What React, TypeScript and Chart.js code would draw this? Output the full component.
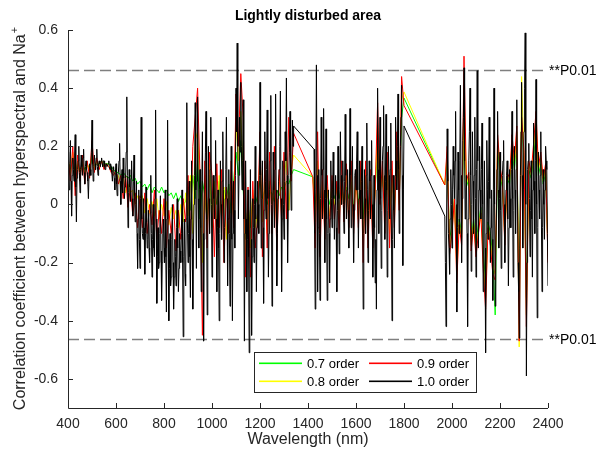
import React, { useEffect, useRef } from 'react';
import { Chart, registerables } from 'chart.js';

Chart.register(...registerables);

// ---------- data ----------
const X_TICKS = [400, 600, 800, 1000, 1200, 1400, 1600, 1800, 2000, 2200, 2400];
const Y_TICKS = [-0.6, -0.4, -0.2, 0, 0.2, 0.4, 0.6];
const SIG_LEVEL = 0.463;
const SIG_LABEL = '**P0.01';
const TITLE = 'Lightly disturbed area';
const X_TITLE = 'Wavelength (nm)';
const Y_TITLE = 'Correlation coefficient between hyperspectral and Na';
const Y_TITLE_SUP = '+';

const SERIES_LABELS = ['0.7 order', '0.8 order', '0.9 order', '1.0 order'];
const SERIES_COLORS = ['#00ff00', '#ffff00', '#ff0000', '#000000'];

// wavelength ranges (nm): water-absorption bands removed
const BLACK_SEGMENTS = [[400, 1340], [1425, 1800], [1970, 2400]];
const BLACK_STEP = 2.5;
const ORDER_SEGMENTS = [[400, 1340], [1420, 1800], [1970, 2400]];
const ORDER_STEP = 10;

// 1.0 order (black): values at every 5 nm ...
const BLACK_A = [
  0.18, 0.05, 0.22, -0.04, 0.16, 0.08, 0.24, -0.06, 0.12, 0.20,
  0.04, 0.17, 0.10, 0.19, 0.07, 0.15, 0.11, 0.02, 0.14, 0.10,
  0.29, 0.08, 0.17, 0.12, 0.19, 0.10, 0.15, 0.13, 0.16, 0.13,
  0.15, 0.12, 0.14, 0.13, 0.15, 0.12, 0.13, 0.08, 0.13, 0.05,
  0.14, 0.03, 0.11, 0.21, 0.00, 0.12, 0.16, 0.02, 0.09, 0.37,
  -0.08, 0.12, 0.01, 0.15, -0.04, 0.17, -0.06, 0.08, -0.22, 0.05,
  -0.22, 0.30, -0.10, 0.02, -0.24, 0.06, -0.15, -0.02, -0.20, 0.10,
  -0.25, 0.00, -0.18, 0.325, -0.34, -0.08, -0.20, 0.03, -0.33, -0.10,
  -0.15, 0.05, -0.37, 0.29, -0.40, -0.10, -0.25, 0.00, -0.36, -0.12,
  -0.28, 0.02, -0.30, -0.10, -0.20, 0.05, -0.455, -0.05, -0.28, 0.35,
  -0.20, 0.08, -0.32, 0.15, -0.36, 0.00, 0.35, -0.22, 0.37, -0.15,
  0.12, -0.30, 0.25, -0.47, 0.05, 0.32, -0.38, 0.20, -0.10, 0.30,
  -0.25, 0.10, -0.05, 0.22, -0.30, 0.05, -0.40, 0.15, -0.12, 0.25,
  -0.20, 0.02, 0.30, -0.28, 0.12, -0.35, 0.20, -0.40, 0.08, -0.15,
  0.40, 0.555, -0.05, 0.30, 0.42, 0.05, 0.36, -0.47, 0.15, -0.30,
  0.05, -0.51, 0.12, -0.45, 0.02, -0.20, 0.20, -0.30, 0.08, -0.10,
  0.42, -0.15, 0.15, -0.34, 0.25, -0.05, 0.325, -0.25, 0.05, 0.375,
  -0.35, 0.18, -0.08, 0.38, -0.28, 0.02, 0.12, 0.39, -0.30, 0.15,
  -0.12, 0.25, 0.435, -0.20, 0.10, 0.32, -0.02, 0.29, 0.27,
];
// ... and the values in between (402.5, 407.5, ... nm)
const BLACK_A_MID = [
  0.10, 0.14, 0.08, 0.10, 0.12, 0.17, 0.06, 0.09, 0.15, 0.11,
  0.12, 0.13, 0.16, 0.11, 0.13, 0.12, 0.08, 0.10, 0.12, 0.18,
  0.14, 0.13, 0.14, 0.16, 0.13, 0.14, 0.14, 0.15, 0.14, 0.15,
  0.13, 0.14, 0.13, 0.14, 0.13, 0.14, 0.11, 0.12, 0.09, 0.11,
  0.07, 0.10, 0.15, 0.08, 0.07, 0.04, 0.09, 0.06, 0.18, 0.10,
  0.04, 0.06, 0.09, 0.02, 0.08, 0.03, 0.00, -0.10, -0.05, -0.12,
  0.02, -0.05, -0.12, -0.08, -0.10, -0.06, -0.12, -0.15, -0.03, -0.10,
  -0.12, -0.15, 0.02, -0.05, -0.18, -0.22, -0.10, -0.16, -0.20, -0.05,
  -0.20, -0.18, -0.05, -0.12, -0.22, -0.28, -0.12, -0.20, -0.25, -0.18,
  -0.08, -0.15, -0.22, -0.16, -0.10, -0.20, -0.18, -0.24, -0.05, -0.05,
  -0.10, -0.18, -0.05, -0.12, -0.15, 0.10, 0.05, 0.08, 0.02, 0.05,
  -0.08, 0.05, -0.10, -0.12, 0.18, -0.05, -0.05, 0.02, 0.12, 0.00,
  -0.05, 0.02, 0.10, -0.05, -0.08, -0.15, -0.10, 0.00, 0.08, 0.05,
  -0.08, 0.12, 0.02, -0.05, -0.10, -0.05, -0.12, -0.10, -0.02, 0.10,
  0.25, 0.20, 0.10, 0.18, 0.20, 0.15, -0.05, -0.10, -0.05, -0.12,
  -0.18, -0.15, -0.12, -0.18, -0.08, 0.00, -0.05, -0.08, 0.00, 0.10,
  0.10, 0.02, -0.08, -0.02, 0.08, 0.12, 0.02, -0.10, 0.15, 0.00,
  -0.05, 0.05, 0.12, 0.05, -0.10, 0.08, 0.20, 0.02, -0.05, 0.00,
  0.08, 0.15, 0.10, -0.02, 0.18, 0.10, 0.12, 0.20,
];
const BLACK_B = [
  0.19, -0.36, 0.48, -0.30, 0.12, -0.33, 0.30, -0.05, 0.33, -0.20,
  0.26, -0.33, 0.05, -0.27, 0.15, -0.08, 0.18, -0.12, 0.10, -0.30,
  0.20, -0.17, 0.25, 0.00, 0.15, -0.10, 0.31, -0.05, 0.12, -0.15,
  0.33, -0.08, 0.20, -0.20, 0.10, 0.05, 0.25, -0.15, 0.15, -0.05,
  0.20, -0.36, 0.12, -0.10, 0.28, -0.20, 0.15, -0.05, 0.22, -0.25,
  0.10, -0.27, -0.36, 0.40, -0.10, 0.30, -0.22, 0.15, 0.34, -0.12,
  0.31, -0.25, 0.20, -0.05, 0.28, -0.40, 0.10, -0.15, 0.30, 0.05,
  0.38, -0.10, 0.20, 0.41, -0.21, 0.27,
];
const BLACK_B_MID = [
  -0.10, 0.05, 0.10, -0.08, -0.10, 0.02, 0.10, 0.12, 0.05, 0.02,
  -0.05, -0.10, -0.10, -0.05, 0.02, 0.05, 0.02, 0.00, -0.08, -0.02,
  0.02, 0.05, 0.10, 0.08, 0.00, 0.08, 0.10, 0.05, -0.02, 0.05,
  0.10, 0.06, 0.00, -0.02, 0.12, 0.15, 0.05, 0.02, 0.05, 0.08,
  -0.05, -0.10, 0.02, 0.10, 0.05, -0.02, 0.08, 0.10, 0.00, -0.08,
  -0.08, -0.12, 0.05, 0.12, 0.10, 0.02, -0.02, 0.20, 0.10, 0.08,
  0.05, -0.02, 0.10, 0.12, -0.05, -0.12, -0.02, 0.10, 0.15, 0.20,
  0.12, 0.05, 0.30, 0.10, 0.05,
];
const BLACK_C = [
  -0.04, -0.42, 0.26, -0.10, -0.24, 0.12, -0.15, 0.20, 0.02, 0.32,
  -0.37, 0.18, -0.10, 0.41, -0.20, 0.22, 0.47, -0.05, 0.10, -0.42,
  0.15, 0.40, -0.23, 0.25, -0.10, 0.30, -0.25, 0.46, -0.15, 0.20,
  -0.05, 0.28, -0.30, 0.15, -0.51, 0.22, -0.12, 0.30, -0.20, 0.05,
  -0.33, 0.40, -0.35, -0.05, 0.32, -0.15, 0.18, -0.22, 0.10, 0.22,
  -0.20, 0.05, 0.15, -0.28, 0.12, -0.08, 0.32, -0.25, 0.20, -0.10,
  0.36, -0.20, -0.46, 0.10, 0.42, -0.15, 0.25, 0.59, -0.59, 0.12,
  0.21, -0.18, 0.15, -0.25, 0.28, -0.10, 0.43, -0.39, 0.18, -0.05,
  0.25, -0.30, 0.12, -0.12, 0.20, 0.12, -0.28,
];
const BLACK_C_MID = [
  -0.20, -0.05, 0.08, -0.15, -0.05, 0.00, 0.05, 0.10, 0.15, 0.00,
  -0.08, 0.05, 0.15, 0.10, 0.02, 0.30, 0.15, 0.05, -0.10, -0.05,
  0.25, 0.10, 0.00, 0.08, 0.10, 0.02, 0.12, 0.15, 0.05, 0.05,
  0.12, 0.00, -0.05, -0.15, -0.10, 0.05, 0.08, 0.02, -0.08, -0.12,
  0.05, 0.00, -0.15, 0.12, 0.05, 0.02, -0.02, -0.05, 0.15, 0.00,
  -0.05, 0.10, -0.05, -0.08, 0.02, 0.12, 0.02, -0.02, 0.05, 0.12,
  0.05, -0.30, -0.15, 0.25, 0.10, 0.05, 0.40, 0.00, -0.20, 0.15,
  0.02, -0.02, -0.05, 0.05, 0.08, 0.15, 0.00, -0.08, 0.05, 0.10,
  -0.05, -0.08, 0.00, 0.05, 0.15, -0.10,
];

// 0.7 order (green), 10 nm
const GREEN_A = [
  0.15, 0.12, 0.16, 0.10, 0.14, 0.11, 0.14, 0.12, 0.14, 0.12,
  0.16, 0.13, 0.14, 0.14, 0.15, 0.14, 0.14, 0.14, 0.13, 0.12,
  0.11, 0.11, 0.10, 0.11, 0.10, 0.09, 0.10, 0.08, 0.09, 0.07,
  0.08, 0.06, 0.07, 0.05, 0.07, 0.04, 0.06, 0.05, 0.04, 0.06,
  0.04, 0.05, 0.03, 0.04, 0.02, 0.04, 0.01, 0.03, 0.00, 0.01,
  0.06, -0.02, 0.10, 0.02, 0.15, -0.05, 0.08, 0.03, -0.06, 0.10,
  -0.02, 0.06, 0.00, 0.08, -0.04, 0.05, 0.02, 0.07, -0.03, 0.08,
  0.18, 0.10, 0.22, 0.05, -0.12, 0.00, -0.08, 0.03, 0.00, 0.03,
  0.08, 0.02, 0.05, 0.00, 0.04, 0.04, 0.01, 0.05, 0.03, 0.06,
  0.05, 0.08, 0.07, 0.10, 0.12,
];
const GREEN_B = [
  0.095, 0.00, 0.08, -0.02, 0.05, -0.04, 0.04, 0.00, 0.06, 0.02,
  0.05, 0.02, 0.07, 0.00, 0.06, 0.02, 0.08, -0.02, 0.08, 0.00,
  0.10, -0.05, 0.10, -0.05, 0.08, -0.06, 0.05, 0.20, 0.05, 0.10,
  0.00, 0.12, -0.05, 0.10, 0.00, 0.15, 0.05, 0.30, 0.366,
];
const GREEN_C = [
  0.067, 0.15, -0.12, -0.07, 0.02, -0.20, -0.05, -0.10, 0.32, 0.06,
  0.09, -0.12, -0.05, -0.13, -0.07, -0.01, -0.16, -0.27, -0.06, -0.10,
  -0.18, -0.38, 0.20, 0.10, 0.06, -0.10, 0.09, 0.07, 0.19, 0.12,
  0.22, -0.33, 0.30, 0.14, -0.32, 0.12, 0.09, 0.16, 0.26, 0.10,
  0.14, 0.07, 0.11, -0.15,
];

// 0.8 order (yellow), 10 nm
const YELLOW_A = [
  0.16, 0.10, 0.18, 0.06, 0.15, 0.10, 0.15, 0.10, 0.14, 0.11,
  0.18, 0.12, 0.15, 0.13, 0.15, 0.13, 0.14, 0.13, 0.12, 0.11,
  0.10, 0.10, 0.06, 0.10, 0.04, 0.07, 0.04, 0.05, 0.00, 0.03,
  0.01, 0.03, -0.03, 0.02, -0.03, 0.01, -0.04, 0.02, -0.05, 0.00,
  -0.04, 0.01, -0.07, -0.01, -0.05, -0.02, -0.08, 0.00, -0.06, 0.04,
  -0.04, 0.10, -0.10, 0.22, 0.25, 0.05, -0.20, 0.10, -0.10, 0.14,
  -0.08, 0.08, -0.10, 0.10, -0.05, 0.06, -0.12, 0.04, 0.06, -0.05,
  0.28, 0.15, 0.32, 0.10, -0.20, 0.03, -0.15, 0.05, -0.08, -0.03,
  0.18, -0.06, 0.10, -0.10, 0.08, 0.00, 0.08, -0.08, 0.10, -0.03,
  0.08, 0.16, -0.02, 0.12, 0.17,
];
const YELLOW_B = [
  0.095, -0.06, 0.15, -0.10, 0.08, -0.08, 0.06, -0.04, 0.08, 0.00,
  0.06, -0.05, 0.10, -0.03, 0.10, -0.05, 0.12, -0.06, 0.10, -0.05,
  0.12, -0.12, 0.12, -0.10, 0.10, -0.10, 0.05, 0.28, 0.02, 0.12,
  -0.05, 0.15, -0.10, 0.12, -0.05, 0.20, 0.00, 0.36, 0.387,
];
const YELLOW_C = [
  0.067, 0.18, -0.15, -0.09, 0.02, -0.24, -0.06, -0.12, 0.40, 0.07,
  0.10, -0.14, -0.06, -0.16, -0.09, -0.02, -0.19, -0.32, -0.07, -0.12,
  -0.21, -0.24, 0.22, 0.12, 0.07, -0.12, 0.10, 0.08, 0.22, 0.14,
  0.25, -0.49, 0.44, 0.16, -0.38, 0.14, 0.10, 0.19, 0.30, 0.12,
  0.16, 0.08, 0.13, -0.18,
];

// 0.9 order (red), 10 nm
const RED_A = [
  0.17, 0.08, 0.20, 0.03, 0.17, 0.08, 0.17, 0.07, 0.15, 0.09,
  0.22, 0.11, 0.16, 0.12, 0.15, 0.12, 0.14, 0.13, 0.11, 0.10,
  0.12, 0.07, 0.10, 0.02, 0.10, -0.01, 0.06, -0.04, 0.04, -0.08,
  0.03, -0.08, 0.04, -0.10, 0.00, -0.07, 0.05, -0.12, -0.02, -0.10,
  0.02, -0.15, -0.02, -0.10, 0.00, -0.16, -0.02, -0.12, 0.02, -0.06,
  0.10, -0.12, 0.20, 0.30, 0.40, 0.10, -0.45, 0.15, -0.15, 0.18,
  0.10, -0.18, 0.14, -0.08, 0.12, -0.20, 0.06, -0.10, 0.15, -0.08,
  0.38, 0.20, 0.45, 0.30, -0.25, 0.06, -0.25, 0.08, -0.15, -0.05,
  0.25, -0.18, 0.15, -0.15, 0.18, -0.10, 0.20, -0.16, 0.12, -0.06,
  0.18, -0.05, 0.30, 0.08, 0.245,
];
const RED_B = [
  0.095, -0.15, 0.25, -0.18, 0.12, -0.12, 0.10, -0.08, 0.10, -0.05,
  0.08, -0.10, 0.15, -0.06, 0.14, -0.08, 0.15, -0.10, 0.12, -0.08,
  0.15, -0.20, 0.15, -0.15, 0.12, -0.15, 0.05, 0.35, 0.00, 0.15,
  -0.10, 0.18, -0.15, 0.15, -0.08, 0.25, -0.02, 0.44, 0.34,
];
const RED_C = [
  0.067, 0.20, -0.17, -0.10, 0.02, -0.27, -0.07, -0.14, 0.51, 0.08,
  0.11, -0.16, -0.07, -0.18, -0.10, -0.03, -0.22, -0.36, -0.08, -0.14,
  -0.24, -0.26, 0.24, 0.13, 0.08, -0.14, 0.11, 0.09, 0.24, 0.15,
  0.27, -0.47, 0.30, 0.18, -0.42, 0.15, 0.11, 0.21, 0.32, 0.13,
  0.18, 0.09, 0.14, -0.20,
];

// ---------- helpers ----------
function grid(segments: number[][], step: number): number[] {
  const xs: number[] = [];
  for (const [a, b] of segments) {
    const n = Math.round((b - a) / step);
    for (let k = 0; k <= n; k++) xs.push(a + k * step);
  }
  return xs;
}
function interleave(main: number[], mid: number[]): number[] {
  const out: number[] = [];
  for (let i = 0; i < main.length; i++) {
    out.push(main[i]);
    if (i < mid.length) out.push(mid[i]);
  }
  return out;
}
function toPoints(xs: number[], ys: number[]) {
  const n = Math.min(xs.length, ys.length);
  if (xs.length !== ys.length) console.warn('length mismatch', xs.length, ys.length);
  const pts = [];
  for (let i = 0; i < n; i++) pts.push({ x: xs[i], y: ys[i] });
  return pts;
}

const FONT = '"Liberation Sans", Arial, Helvetica, sans-serif';
const INK = '#262626';

const decorPlugin = {
  id: 'decor',
  beforeDatasetsDraw(chart: any) {
    const { ctx, chartArea: a, scales } = chart;
    const y = scales.y;
    ctx.save();
    ctx.strokeStyle = '#7f7f7f';
    ctx.lineWidth = 1.4;
    ctx.setLineDash([11, 5]);
    for (const v of [SIG_LEVEL, -SIG_LEVEL]) {
      const py = Math.round(y.getPixelForValue(v)) + 0.5;
      ctx.beginPath();
      ctx.moveTo(a.left, py);
      ctx.lineTo(a.right - 2, py);
      ctx.stroke();
    }
    ctx.restore();
  },
  afterDraw(chart: any) {
    const { ctx, chartArea: a, scales } = chart;
    const xs = scales.x;
    const ys = scales.y;
    ctx.save();
    // axes
    ctx.strokeStyle = INK;
    ctx.lineWidth = 1;
    ctx.setLineDash([]);
    ctx.beginPath();
    ctx.moveTo(a.left + 0.5, a.top);
    ctx.lineTo(a.left + 0.5, a.bottom + 0.5);
    ctx.lineTo(a.right, a.bottom + 0.5);
    ctx.stroke();
    // inward ticks
    ctx.beginPath();
    for (const v of Y_TICKS) {
      const py = Math.round(ys.getPixelForValue(v)) + 0.5;
      ctx.moveTo(a.left, py);
      ctx.lineTo(a.left + 5, py);
    }
    for (const v of X_TICKS) {
      const px = Math.round(xs.getPixelForValue(v)) + 0.5;
      ctx.moveTo(px, a.bottom);
      ctx.lineTo(px, a.bottom - 5);
    }
    ctx.stroke();

    // significance labels
    ctx.fillStyle = '#000';
    ctx.font = `14px ${FONT}`;
    ctx.textAlign = 'left';
    ctx.textBaseline = 'middle';
    for (const v of [SIG_LEVEL, -SIG_LEVEL]) {
      ctx.fillText(SIG_LABEL, a.right + 1, ys.getPixelForValue(v) + 1);
    }

    // title
    ctx.fillStyle = '#000';
    ctx.font = `bold 14px ${FONT}`;
    ctx.textAlign = 'center';
    ctx.textBaseline = 'middle';
    ctx.fillText(TITLE, (a.left + a.right) / 2, 16);

    // x title
    ctx.fillStyle = INK;
    ctx.font = `16px ${FONT}`;
    ctx.fillText(X_TITLE, (a.left + a.right) / 2, 440);

    // y title (rotated, with superscript)
    ctx.save();
    ctx.translate(21, (a.top + a.bottom) / 2);
    ctx.rotate(-Math.PI / 2);
    ctx.font = `16px ${FONT}`;
    const w1 = ctx.measureText(Y_TITLE).width;
    ctx.font = `11px ${FONT}`;
    const w2 = ctx.measureText(Y_TITLE_SUP).width;
    const x0 = -(w1 + w2) / 2;
    ctx.textAlign = 'left';
    ctx.font = `16px ${FONT}`;
    ctx.fillText(Y_TITLE, x0, 0);
    ctx.font = `11px ${FONT}`;
    ctx.fillText(Y_TITLE_SUP, x0 + w1 + 1, -6);
    ctx.restore();

    // legend (two columns, column-major)
    const bx = 254.5, by = 352.5, bw = 222, bh = 40;
    ctx.fillStyle = '#ffffff';
    ctx.fillRect(bx, by, bw, bh);
    ctx.strokeStyle = '#262626';
    ctx.lineWidth = 1;
    ctx.strokeRect(bx, by, bw, bh);
    const colX = [259, 369];
    const rowY = [363, 381];
    ctx.font = `13px ${FONT}`;
    ctx.textAlign = 'left';
    ctx.textBaseline = 'middle';
    SERIES_LABELS.forEach((label, i) => {
      const col = Math.floor(i / 2);
      const row = i % 2;
      const lx = colX[col];
      const ly = rowY[row];
      ctx.fillStyle = SERIES_COLORS[i];
      ctx.fillRect(lx, ly - 0.5, 43, 1.6);
      ctx.fillStyle = '#000';
      ctx.fillText(label, lx + 48, ly + 1);
    });
    ctx.restore();
  },
};

export default function App() {
  const ref = useRef<HTMLCanvasElement | null>(null);
  useEffect(() => {
    if (!ref.current) return;
    const bx = grid(BLACK_SEGMENTS, BLACK_STEP);
    const ox = grid(ORDER_SEGMENTS, ORDER_STEP);
    const seriesY = [
      [...GREEN_A, ...GREEN_B, ...GREEN_C],
      [...YELLOW_A, ...YELLOW_B, ...YELLOW_C],
      [...RED_A, ...RED_B, ...RED_C],
      [
        ...interleave(BLACK_A, BLACK_A_MID),
        ...interleave(BLACK_B, BLACK_B_MID),
        ...interleave(BLACK_C, BLACK_C_MID),
      ],
    ];
    const datasets = seriesY.map((ys, i) => ({
      label: SERIES_LABELS[i],
      data: toPoints(i === 3 ? bx : ox, ys),
      borderColor: SERIES_COLORS[i],
      backgroundColor: SERIES_COLORS[i],
      borderWidth: 1,
      pointRadius: 0,
      tension: 0,
      fill: false,
      order: 3 - i,
    }));
    Chart.defaults.font.family = FONT;
    const chart = new Chart(ref.current, {
      type: 'line',
      data: { datasets },
      plugins: [decorPlugin],
      options: {
        animation: false,
        responsive: false,
        devicePixelRatio: 1,
        layout: { padding: { left: 0, right: 62, top: 30, bottom: 0 } },
        plugins: { legend: { display: false }, title: { display: false }, tooltip: { enabled: false } },
        scales: {
          x: {
            type: 'linear',
            min: 400,
            max: 2400,
            grid: { display: false, drawTicks: false },
            border: { display: false },
            afterBuildTicks: (s: any) => { s.ticks = X_TICKS.map((v) => ({ value: v })); },
            afterFit: (s: any) => { s.height = 51; },
            ticks: {
              color: INK,
              font: { size: 14, family: FONT },
              padding: 8,
              maxRotation: 0,
              autoSkip: false,
              callback: (v: any) => String(v),
            },
          },
          y: {
            type: 'linear',
            min: -0.7,
            max: 0.6,
            grid: { display: false, drawTicks: false },
            border: { display: false },
            afterBuildTicks: (s: any) => { s.ticks = Y_TICKS.map((v) => ({ value: v })); },
            afterFit: (s: any) => { s.width = 68; },
            ticks: {
              color: INK,
              font: { size: 14, family: FONT },
              padding: 10,
              autoSkip: false,
              callback: (v: any) => (Math.abs(v) < 1e-9 ? '0' : Number(v).toFixed(1)),
            },
          },
        },
      },
    });
    return () => chart.destroy();
  }, []);
  return (
    <div style={{ position: 'absolute', left: 0, top: 0, width: 610, height: 459, background: '#fff' }}>
      <canvas ref={ref} width={610} height={459} />
    </div>
  );
}
